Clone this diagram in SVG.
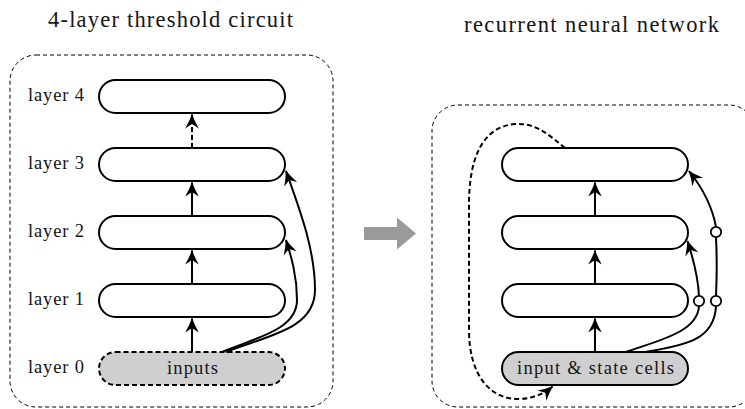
<svg xmlns="http://www.w3.org/2000/svg" width="745" height="409" viewBox="0 0 745 409">
  <style>
    .title { font-family: "Liberation Serif", serif; font-size: 22.5px; text-anchor: middle; fill: #141414; }
    .lbl { font-family: "Liberation Serif", serif; font-size: 18.5px; text-anchor: middle; fill: #141414; }
    .frame { fill: none; stroke: #000; stroke-width: 1; stroke-dasharray: 4 3; }
    .cell { fill: #fff; stroke: #000; stroke-width: 2; }
    .in-dash { fill: #cfcfcf; stroke: #000; stroke-width: 2; stroke-dasharray: 5 3; }
    .in-solid { fill: #cfcfcf; stroke: #000; stroke-width: 2; }
    .edge { fill: none; stroke: #000; stroke-width: 2; }
    .dashed { stroke-dasharray: 5 3; }
    .gate { fill: #fff; stroke: #000; stroke-width: 1.8; }
  </style>
  <defs>
    <marker id="head" markerUnits="userSpaceOnUse" viewBox="-16 -8 18 16" markerWidth="18" markerHeight="16" refX="0" refY="0" orient="auto">
      <path d="M 0.8 0 Q -6 -2.2 -14 -6.8 L -9.5 0 L -14 6.8 Q -6 2.2 0.8 0 Z" fill="#000"/>
    </marker>
  </defs>

  <!-- titles -->
  <text class="title" x="170.5" y="27" textLength="245" lengthAdjust="spacing">4-layer threshold circuit</text>
  <text class="title" x="591.5" y="32" textLength="255" lengthAdjust="spacing">recurrent neural network</text>

  <!-- panel frames -->
  <rect class="frame" x="10" y="55" width="323" height="352" rx="26"/>
  <rect class="frame" x="432" y="105" width="323" height="302" rx="26"/>

  <!-- transition arrow -->
  <path d="M 364 227 L 397 227 L 397 217.5 L 416 233.5 L 397 249.5 L 397 240 L 364 240 Z" fill="#9a9a9a"/>

  <!-- threshold circuit layers -->
  <g id="layer4">
    <rect class="cell" x="99" y="80" width="186" height="33" rx="16.5"/>
    <text class="lbl" x="56" y="100.5" textLength="56" lengthAdjust="spacing">layer 4</text>
  </g>
  <g id="layer3">
    <rect class="cell" x="99" y="148" width="186" height="33" rx="16.5"/>
    <text class="lbl" x="56" y="168.5" textLength="56" lengthAdjust="spacing">layer 3</text>
  </g>
  <g id="layer2">
    <rect class="cell" x="99" y="216" width="186" height="33" rx="16.5"/>
    <text class="lbl" x="56" y="236.5" textLength="56" lengthAdjust="spacing">layer 2</text>
  </g>
  <g id="layer1">
    <rect class="cell" x="99" y="284" width="186" height="33" rx="16.5"/>
    <text class="lbl" x="56" y="304.5" textLength="56" lengthAdjust="spacing">layer 1</text>
  </g>
  <g id="layer0">
    <rect class="in-dash" x="99" y="352" width="186" height="33" rx="16.5"/>
    <text class="lbl" x="56" y="372.5" textLength="56" lengthAdjust="spacing">layer 0</text>
    <text class="lbl" x="192.5" y="373.5" textLength="51" lengthAdjust="spacing">inputs</text>
  </g>

  <!-- recurrent network cells -->
  <g id="rnn-top">
    <rect class="cell" x="502" y="148" width="186" height="33" rx="16.5"/>
  </g>
  <g id="rnn-mid">
    <rect class="cell" x="502" y="216" width="186" height="33" rx="16.5"/>
  </g>
  <g id="rnn-low">
    <rect class="cell" x="502" y="284" width="186" height="33" rx="16.5"/>
  </g>
  <g id="rnn-state">
    <rect class="in-solid" x="502" y="352" width="186" height="33" rx="16.5"/>
    <text class="lbl" x="595.5" y="373.5" textLength="157" lengthAdjust="spacing">input &amp; state cells</text>
  </g>

  <!-- connectors -->
  <g id="connectors">
    <!-- threshold circuit: layer-to-layer links and skip links -->
    <path class="edge" d="M 192 352 L 192 318.5" marker-end="url(#head)"/>
    <path class="edge" d="M 192 284 L 192 250.5" marker-end="url(#head)"/>
    <path class="edge" d="M 192 216 L 192 182.5" marker-end="url(#head)"/>
    <path class="edge dashed" d="M 192 148 L 192 114.5" marker-end="url(#head)"/>
    <path class="edge" d="M 222 352 C 255 338 297 330 297 300 C 297 275 291 256 286 240" marker-end="url(#head)"/>
    <path class="edge" d="M 226 352 C 265 336 315 330 315 290 C 315 250 300 210 286 171" marker-end="url(#head)"/>

    <!-- recurrent network: links, gated skip links, feedback loop -->
    <path class="edge" d="M 595 352 L 595 318.5" marker-end="url(#head)"/>
    <path class="edge" d="M 595 284 L 595 250.5" marker-end="url(#head)"/>
    <path class="edge" d="M 595 216 L 595 182.5" marker-end="url(#head)"/>
    <path class="edge" d="M 626 352 C 660 340 697 332 699 306.5"/>
    <path class="edge" d="M 699 296 C 698 275 693 258 687.5 241" marker-end="url(#head)"/>
    <path class="edge" d="M 645 352 C 690 345 714 338 716 306.5"/>
    <path class="edge" d="M 716 296 C 717 275 717 258 716 237"/>
    <path class="edge" d="M 716 227 C 712 205 701 186 689 171" marker-end="url(#head)"/>
    <circle class="gate" cx="699" cy="301" r="5.2"/>
    <circle class="gate" cx="716" cy="301" r="5.2"/>
    <circle class="gate" cx="716" cy="232" r="5.2"/>
    <path class="edge dashed" d="M 565 148 C 548 134 536 123 515 124 C 481 127 470 160 469 200 L 469 330 C 469 375 490 400 520 399 C 535 398 545 393 552.5 386.5" marker-end="url(#head)"/>
  </g>
</svg>
